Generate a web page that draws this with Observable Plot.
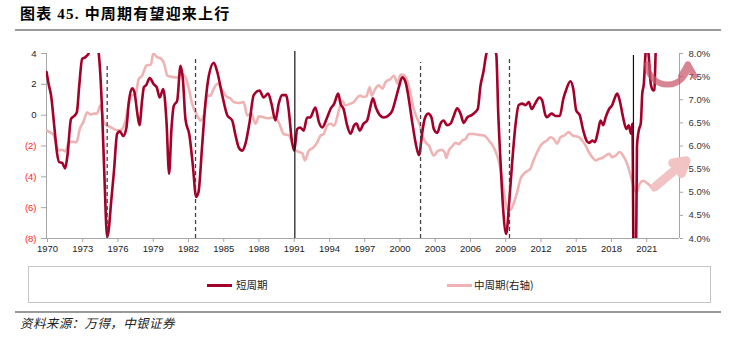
<!DOCTYPE html>
<html><head><meta charset="utf-8">
<script src="https://cdn.jsdelivr.net/npm/d3@7"></script>
<script src="https://cdn.jsdelivr.net/npm/@observablehq/plot@0.6"></script>
<style>
body{margin:0;background:#fff;width:736px;height:340px;position:relative;overflow:hidden;font-family:"Liberation Sans",Arial,sans-serif}
#title{position:absolute;left:20px;top:6px;font-weight:bold;font-size:15px;letter-spacing:1.2px;line-height:17px;font-family:"Liberation Serif","Noto Sans CJK SC",serif;color:#000;white-space:nowrap}
.hr{position:absolute;left:15px;width:706px;height:2px;background:#9a9a9a}
#chart{position:absolute;left:0;top:40px}
#legend{position:absolute;left:28px;top:266px;width:683px;height:37px;border:1px solid #c4c4c4;box-sizing:border-box}
.sw{position:absolute;top:17px;width:25px;height:3px}
.lt{position:absolute;top:11px;font-size:10.5px;line-height:13px;font-family:"Noto Sans CJK SC",sans-serif;color:#222;white-space:nowrap}
#src{position:absolute;left:20px;top:316px;font-size:12.5px;letter-spacing:0.4px;line-height:14px;font-style:italic;font-family:"Noto Sans CJK SC",sans-serif;color:#222;white-space:nowrap}
</style></head>
<body>
<div id="title">图表 45. 中周期有望迎来上行</div>
<div class="hr" style="top:29px"></div>
<div id="chart"></div>
<div id="legend">
  <div class="sw" style="left:178px;background:#a5002a"></div><div class="lt" style="left:207px">短周期</div>
  <div class="sw" style="left:418px;background:#efb3b3"></div><div class="lt" style="left:445px">中周期(右轴)</div>
</div>
<div class="hr" style="top:311px"></div>
<div id="src">资料来源：万得，中银证券</div>
<script>
// ---- data ----
const shortYears = [1969.92,1970.1,1970.3,1970.6,1970.8,1971.0,1971.25,1971.5,1971.7,1972.0,1972.25,1972.5,1972.7,1972.95,1973.2,1973.5,1973.7,1974.0,1974.3,1974.45,1974.65,1974.85,1975.08,1975.2,1975.42,1975.65,1975.93,1976.15,1976.45,1976.72,1976.92,1977.2,1977.4,1977.63,1977.83,1978.05,1978.2,1978.4,1978.7,1979.05,1979.3,1979.55,1979.85,1980.13,1980.35,1980.55,1980.75,1981.04,1981.32,1981.52,1981.74,1982.08,1982.37,1982.65,1982.85,1983.16,1983.45,1983.73,1984.15,1984.45,1984.87,1985.3,1985.72,1986.0,1986.28,1986.57,1986.85,1987.2,1987.55,1988.04,1988.4,1988.78,1989.06,1989.4,1989.68,1989.97,1990.3,1990.55,1990.77,1991.0,1991.25,1991.5,1991.8,1992.1,1992.35,1992.8,1993.1,1993.38,1993.8,1994.09,1994.4,1994.74,1994.94,1995.2,1995.5,1995.79,1996.1,1996.3,1996.58,1996.9,1997.2,1997.5,1997.7,1997.95,1998.28,1998.6,1999.05,1999.35,1999.6,1999.9,2000.2,2000.47,2000.75,2001.04,2001.32,2001.62,2001.9,2002.1,2002.4,2002.68,2002.88,2003.17,2003.45,2003.72,2004.0,2004.3,2004.6,2004.87,2005.15,2005.43,2005.72,2006.1,2006.4,2006.62,2006.85,2007.1,2007.33,2007.6,2007.9,2008.2,2008.36,2008.56,2008.76,2009.04,2009.3,2009.55,2009.83,2010.1,2010.4,2010.7,2010.97,2011.2,2011.5,2011.87,2012.1,2012.38,2012.5,2012.9,2013.25,2013.6,2013.9,2014.17,2014.5,2014.75,2015.0,2015.3,2015.6,2015.88,2016.08,2016.37,2016.58,2016.84,2017.07,2017.3,2017.5,2017.8,2018.06,2018.25,2018.49,2018.7,2018.99,2019.27,2019.46,2019.67,2019.78,2019.9,2020.07,2020.17,2020.32,2020.5,2020.62,2020.75,2020.9,2021.0,2021.15,2021.35,2021.55,2021.65,2021.77,2021.9];
const shortVals = [2.8,2.0,1.3,-0.9,-2.4,-3.05,-3.1,-3.45,-2.6,-0.25,-0.07,0.2,1.9,3.65,3.75,4.0,4.4,4.6,4.3,3.2,0.2,-4.1,-7.9,-7.5,-5.6,-3.7,-1.2,-1.05,-1.35,-0.8,0.85,1.75,1.5,0.2,-0.65,0.95,1.8,1.95,2.4,2.0,1.8,1.15,1.7,-0.45,-3.8,-0.9,0.6,0.95,3.2,2.35,-0.25,-1.3,-3.25,-5.3,-5.0,-2.0,0.85,2.55,3.4,2.8,1.3,0.0,-0.35,-1.3,-2.1,-2.3,-1.85,-0.45,1.3,1.6,1.15,1.4,0.75,-0.35,0.75,1.3,1.3,0.2,-1.5,-2.3,-0.9,-0.8,-1.0,-0.15,-0.15,0.5,-0.45,-0.8,-0.15,0.4,0.75,1.4,0.75,0.4,-0.65,-1.2,-0.65,-0.55,-1.0,-0.55,-0.35,0.6,1.1,0.5,0.0,-0.15,0.0,0.3,0.95,1.8,2.45,2.15,1.05,-0.45,-1.75,-2.6,-1.1,-0.25,0.1,-0.15,-0.9,-1.15,-0.55,-0.35,-0.65,-0.55,0.0,0.45,0.1,-0.5,-0.15,0.0,0.2,0.4,1.9,2.8,3.9,4.5,4.6,3.9,0.2,-3.05,-5.85,-7.7,-5.6,-3.05,-0.65,0.65,0.75,0.65,0.85,0.4,0.75,1.15,0.95,0.0,-0.13,0.1,-0.05,-0.05,1.05,1.7,2.2,1.7,0.3,0.0,-1.0,-1.65,-1.8,-1.65,-1.75,-1.1,-0.35,-0.65,-0.15,0.4,0.65,1.05,1.4,0.95,-0.15,-0.9,-0.65,-1.2,-0.55,-11,-11,-2.0,-1.0,-0.5,1.4,2.0,4.0,4.6,4.0,2.0,1.6,1.65,4.2,5.0];

const midYears = [1969.92,1970.25,1970.5,1970.77,1970.96,1971.25,1971.53,1971.8,1972.1,1972.47,1972.75,1973.04,1973.38,1973.67,1973.94,1974.2,1974.51,1974.8,1975.07,1975.36,1975.7,1976.07,1976.36,1976.64,1976.92,1977.2,1977.5,1977.77,1978.05,1978.43,1978.8,1979.0,1979.33,1979.67,1979.95,1980.2,1980.5,1981.05,1981.4,1981.74,1982.03,1982.31,1982.74,1983.02,1983.3,1983.6,1983.87,1984.15,1984.52,1984.8,1985.15,1985.6,1985.85,1986.28,1986.7,1987.0,1987.35,1987.7,1988.0,1988.4,1988.83,1989.26,1989.68,1990.1,1990.55,1990.82,1990.97,1991.4,1991.7,1991.9,1992.24,1992.6,1992.96,1993.25,1993.5,1993.8,1994.1,1994.4,1994.8,1995.08,1995.36,1995.73,1996.07,1996.3,1996.6,1996.87,1997.15,1997.43,1997.6,1997.9,1998.2,1998.5,1998.77,1999.2,1999.5,1999.78,2000.05,2000.3,2000.6,2000.89,2001.17,2001.46,2001.7,2001.9,2002.17,2002.46,2002.88,2003.17,2003.53,2003.8,2003.93,2004.16,2004.5,2004.73,2005.0,2005.3,2005.58,2005.86,2006.3,2006.72,2007.13,2007.56,2007.98,2008.27,2008.55,2008.85,2009.12,2009.4,2009.7,2009.97,2010.26,2010.55,2010.83,2011.1,2011.4,2011.68,2011.97,2012.25,2012.52,2012.8,2013.1,2013.37,2013.66,2014.0,2014.37,2014.66,2014.95,2015.23,2015.5,2015.8,2016.07,2016.36,2016.64,2016.93,2017.2,2017.5,2017.8,2018.06,2018.35,2018.7,2018.99,2019.28,2019.56,2019.85,2020.12,2020.4,2020.7,2021.0,2021.27,2021.6,2021.83,2022.0];
const midPct = [6.34,6.29,6.25,6.01,5.9,5.92,5.88,6.08,6.09,6.08,6.37,6.51,6.73,6.68,6.7,6.7,6.88,6.51,6.44,6.41,6.36,6.34,6.37,6.55,6.91,7.09,7.12,7.45,7.52,7.74,7.76,8.0,7.92,7.89,7.76,7.52,7.5,7.48,7.56,7.49,7.24,6.91,6.66,6.55,6.66,7.09,7.09,7.24,7.35,7.24,7.09,7.02,6.95,6.93,6.95,6.66,6.7,6.48,6.64,6.62,6.6,6.62,6.51,6.26,6.23,6.05,5.94,5.87,5.84,5.69,5.9,5.96,6.08,6.23,6.26,6.44,6.48,6.44,6.77,6.98,6.88,6.91,6.95,7.03,7.09,7.06,7.08,7.27,7.09,7.24,7.31,7.24,7.38,7.45,7.52,7.35,7.54,7.54,7.42,7.13,6.8,6.6,6.45,6.23,6.08,6.01,5.79,5.88,5.92,5.87,5.74,5.9,6.01,6.07,6.04,6.12,6.15,6.26,6.26,6.24,6.23,6.12,5.97,5.79,5.51,5.0,4.64,4.62,4.78,5.0,5.29,5.4,5.46,5.51,5.71,5.87,6.01,6.08,6.12,6.19,6.15,6.05,6.19,6.23,6.3,6.23,6.21,6.19,6.12,6.01,5.87,5.76,5.69,5.72,5.74,5.79,5.83,5.76,5.79,5.87,5.79,5.65,5.43,5.15,5.0,5.18,5.25,5.2,5.15,5.04,5.15,5.16];

const xTickYears = [1970,1973,1976,1979,1982,1985,1988,1991,1994,1997,2000,2003,2006,2009,2012,2015,2018,2021];
const leftTicksPos = [0,2,4];
const leftTicksNeg = [-8,-6,-4,-2];
const rightTicksPct = [4.0,4.5,5.0,5.5,6.0,6.5,7.0,7.5,8.0];

// vertical marker lines
const markerYears = [1975.08,1982.6,1991.05,2001.75,2009.32,2019.87];
const markerTops  = [3.3,3.8,4.13,3.42,3.8,3.87];
const markerDashed = [true,true,false,true,true,false];

// annotation arrows (year, left-axis value)
const curvedArrow = [{x1:2021.05,y1:3.3,x2:2024.5,y2:3.3}];
const straightArrow = [{x1:2021.7,y1:-4.65,x2:2024.35,y2:-2.95}];

// ---- build ----
const xDomain = [1969.915, 2023.79];
const toLeft = p => (p - 4) * 3 - 8;
const shortData = shortYears.map((x,i)=>({x, v: shortVals[i]}));
const midData = midYears.map((x,i)=>({x, v: toLeft(midPct[i])}));
const markers = markerYears.map((x,i)=>({x, top: markerTops[i], dashed: markerDashed[i]}));
const RED = "#a5002a", PINK = "#efb3b3", AX = "#a6a6a6";

const chart = Plot.plot({
  width: 736, height: 225,
  marginTop: 13, marginBottom: 27, marginLeft: 46, marginRight: 57,
  style: {fontFamily: '"Liberation Sans", Arial, sans-serif', fontSize: "9.5px", color: "#333", background: "transparent"},
  x: {domain: xDomain, axis: null},
  y: {domain: [-8, 4], axis: null},
  marks: [
    Plot.ruleX([xDomain[0], xDomain[1]], {y1: -8, y2: 4, stroke: AX}),
    Plot.ruleY([-8], {stroke: AX}),
    Plot.axisX(xTickYears, {tickFormat: d => String(d), tickSize: 4, tickPadding: 3, stroke: AX, fill: "#222"}),
    Plot.axisY(leftTicksPos, {anchor: "left", tickSize: 5, tickPadding: 5, stroke: AX, fill: "#222", tickFormat: d => String(d)}),
    Plot.axisY(leftTicksNeg, {anchor: "left", tickSize: 5, tickPadding: 5, stroke: AX, fill: "#ff1a1a", tickFormat: d => `(${-d})`}),
    Plot.axisY(rightTicksPct.map(toLeft), {anchor: "right", tickSize: 3, tickPadding: 6, stroke: AX, fill: "#333",
      tickFormat: d => ((d + 8) / 3 + 4).toFixed(1) + "%"}),
    Plot.line(midData, {x: "x", y: "v", stroke: PINK, strokeWidth: 2.6, curve: "monotone-x", clip: true}),
    Plot.line(shortData, {x: "x", y: "v", stroke: RED, strokeWidth: 2.6, curve: "monotone-x", clip: true}),
    Plot.ruleX(markers.filter(d => d.dashed), {x: "x", y1: -8, y2: "top", stroke: "#444", strokeWidth: 1.3, strokeDasharray: "4,3"}),
    Plot.ruleX(markers.filter(d => !d.dashed), {x: "x", y1: -8, y2: "top", stroke: "#111", strokeWidth: 1.2}),
    Plot.arrow(curvedArrow, {x1: "x1", y1: "y1", x2: "x2", y2: "y2", bend: -90, stroke: "#c9566a", strokeOpacity: 0.72, strokeWidth: 6, headLength: 6}),
    Plot.arrow(straightArrow, {x1: "x1", y1: "y1", x2: "x2", y2: "y2", stroke: "#f2c3c3", strokeWidth: 9, headLength: 6})
  ]
});
chart.style.overflow = "visible";
document.getElementById("chart").appendChild(chart);
</script>
</body></html>
